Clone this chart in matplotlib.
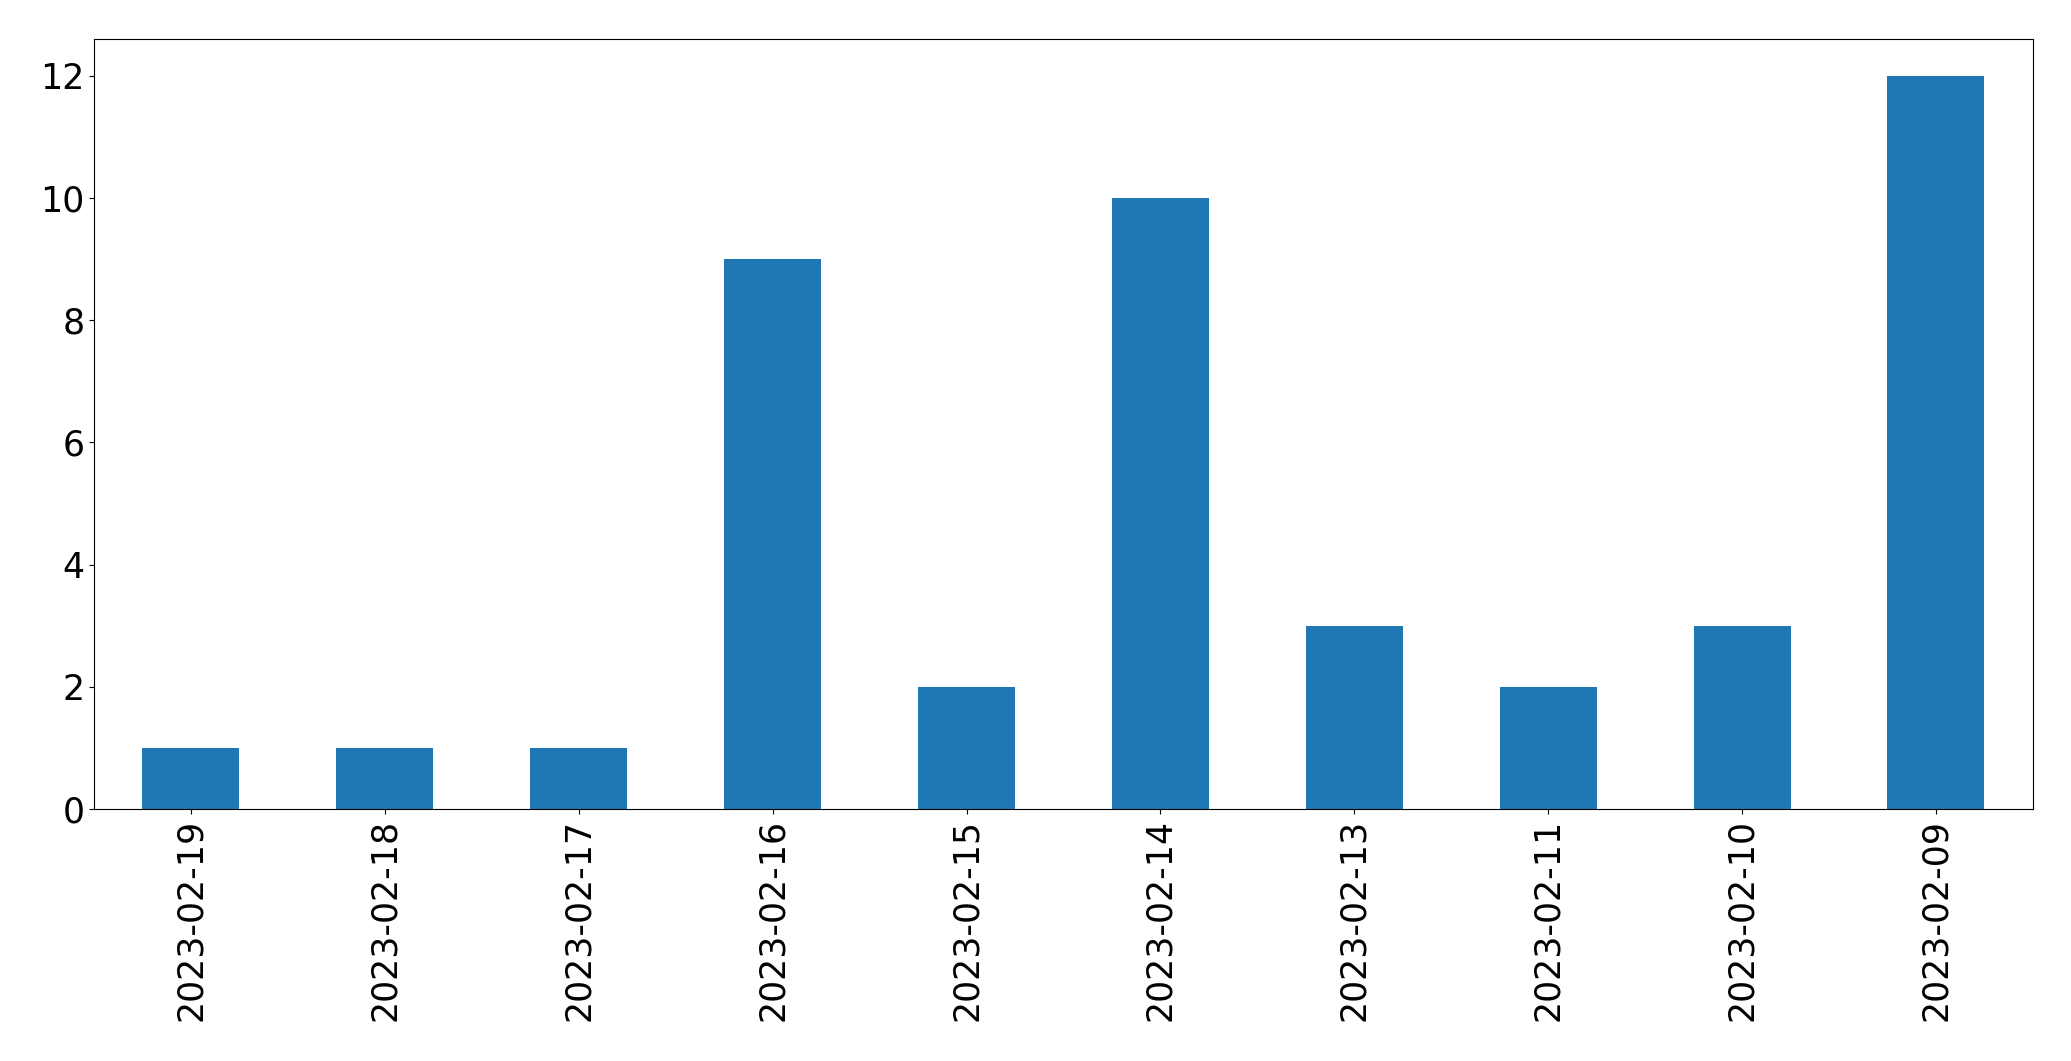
import matplotlib
matplotlib.use("Agg")
import matplotlib.pyplot as plt
import pandas as pd

dates = ["2023-02-19", "2023-02-18", "2023-02-17", "2023-02-16", "2023-02-15",
         "2023-02-14", "2023-02-13", "2023-02-11", "2023-02-10", "2023-02-09"]
counts = [1, 1, 1, 9, 2, 10, 3, 2, 3, 12]

serie = pd.Series(counts, index=dates)

fig = plt.figure(figsize=(20.71, 10.61), dpi=100)
ax = fig.add_axes([0.0454, 0.2375, 0.9362, 0.7257])
serie.plot(kind="bar", ax=ax, color="#1f77b4", fontsize=25)
ax.set_xlabel("")
fig.savefig("out.png", dpi=100)
